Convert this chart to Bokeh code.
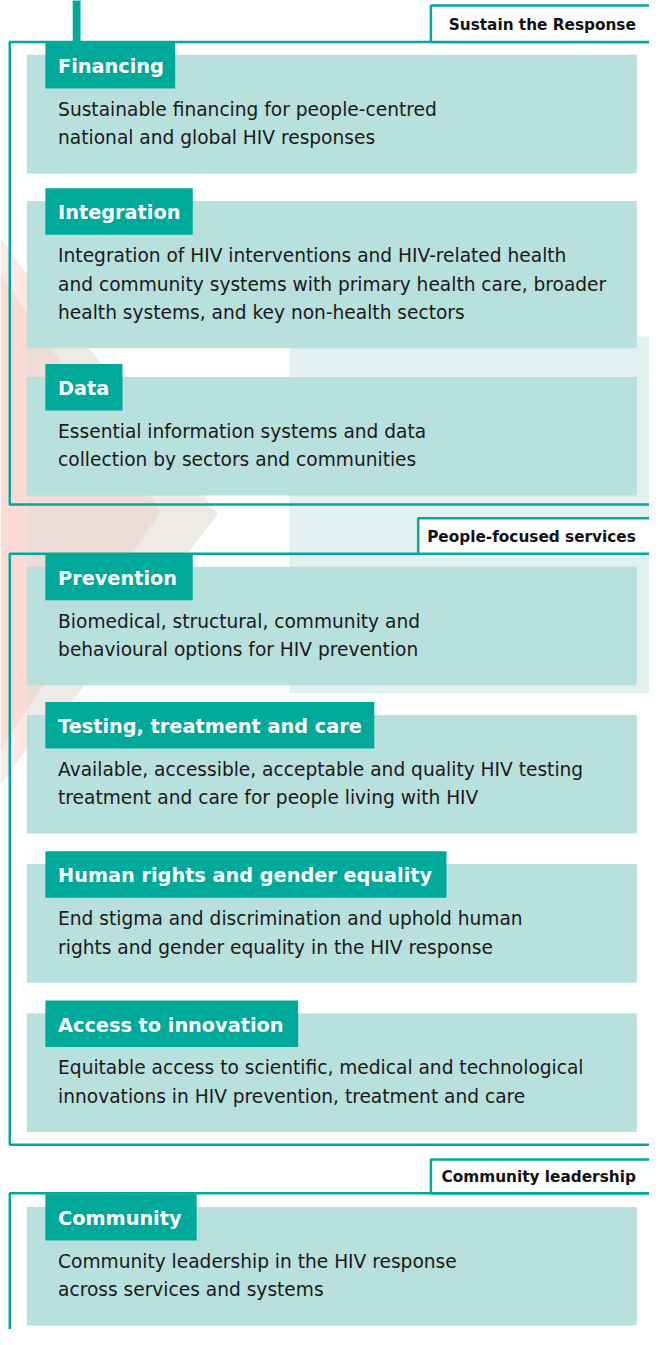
from bokeh.plotting import figure
from bokeh.models import Range1d
from bokeh.core.properties import value
from bokeh.embed import file_html
from bokeh.resources import INLINE

# ---------------- data ----------------
section_names = ["Sustain the Response", "People-focused services", "Community leadership"]

card_titles = [
    "Financing",
    "Integration",
    "Data",
    "Prevention",
    "Testing, treatment and care",
    "Human rights and gender equality",
    "Access to innovation",
    "Community",
]

card_lines = [
    ["Sustainable financing for people-centred",
     "national and global HIV responses"],
    ["Integration of HIV interventions and HIV-related health",
     "and community systems with primary health care, broader",
     "health systems, and key non-health sectors"],
    ["Essential information systems and data",
     "collection by sectors and communities"],
    ["Biomedical, structural, community and",
     "behavioural options for HIV prevention"],
    ["Available, accessible, acceptable and quality HIV testing",
     "treatment and care for people living with HIV"],
    ["End stigma and discrimination and uphold human",
     "rights and gender equality in the HIV response"],
    ["Equitable access to scientific, medical and technological",
     "innovations in HIV prevention, treatment and care"],
    ["Community leadership in the HIV response",
     "across services and systems"],
]

card_section = [0, 0, 0, 1, 1, 1, 1, 2]

# ---------------- layout (reference pixels, y downwards) ----------------
header_tops = [42, 190, 368, 560, 710, 861, 1012, 1208]
header_widths = [133, 151, 79, 151, 337, 411, 259, 155]
section_label_left = [441, 428, 441]
section_label_top = [5, 524, 1173]
section_frame_top = [42, 560, 1207]
section_frame_bottom = [510, 1158, 1420]

TEAL = "#00A99A"
CARD = "#B8E0DC"
PALE = "#E2F1EF"
FONT = value("DejaVu Sans")

p = figure(width=649, height=1329, output_backend="svg", toolbar_location=None,
           x_range=Range1d(0, 665), y_range=Range1d(1345, 0),
           min_border=0, outline_line_color=None, background_fill_color="white",
           border_fill_color="white")
p.axis.visible = False
p.grid.visible = False

# background decorations
p.quad(left=[296], right=[700], top=[340], bottom=[701], fill_color=PALE, line_color=None)
p.patch([0, 27, 27, 0], [240, 277, 757, 794], fill_color="#FCE9E6", line_color=None)
p.patch([27, 223, 27], [271, 520, 768], fill_color="#EEEBE6", line_color=None)
p.patch([0, 164, 0], [276, 517, 758], fill_color="#FADBD6", line_color=None)
p.patch([27, 164, 27], [316, 517, 718], fill_color="#ECDDD6", line_color=None)

# vertical connector at top
p.quad(left=[74], right=[82], top=[-5], bottom=[42], fill_color=TEAL, line_color=None)

# section frames and labels
for s, name in enumerate(section_names):
    p.quad(left=[9.5], right=[720], top=[section_frame_top[s]], bottom=[section_frame_bottom[s]],
           fill_color=None, line_color=TEAL, line_width=2.5)
    p.quad(left=[section_label_left[s]], right=[720], top=[section_label_top[s]],
           bottom=[section_frame_top[s]], fill_color="white", line_color=TEAL, line_width=2.5)
    p.text(x=[651], y=[(section_label_top[s] + section_frame_top[s]) / 2 + 1], text=[name],
           text_font=FONT, text_font_style="bold", text_font_size="15.3px",
           text_align="right", text_baseline="middle", text_color="#111111")

# cards
for i, title in enumerate(card_titles):
    ht = header_tops[i]
    ct = ht + 13
    n = len(card_lines[i])
    cb = ct + 120 + 29 * (n - 2)
    p.quad(left=[27], right=[652], top=[ct], bottom=[cb], fill_color=CARD, line_color=None)
    p.quad(left=[46], right=[46 + header_widths[i]], top=[ht], bottom=[ht + 47],
           fill_color=TEAL, line_color=None)
    p.text(x=[59], y=[ht + 25], text=[title], text_font=FONT, text_font_style="bold",
           text_font_size="19.3px", text_color="white", text_baseline="middle", text_align="left")
    ys = [ct + 55 + 29 * k for k in range(n)]
    p.text(x=[59] * n, y=ys, text=card_lines[i], text_font=FONT, text_font_size="18.6px",
           text_color="#1A1A1A", text_baseline="middle", text_align="left")

open("out.html", "w").write(file_html(p, INLINE))
